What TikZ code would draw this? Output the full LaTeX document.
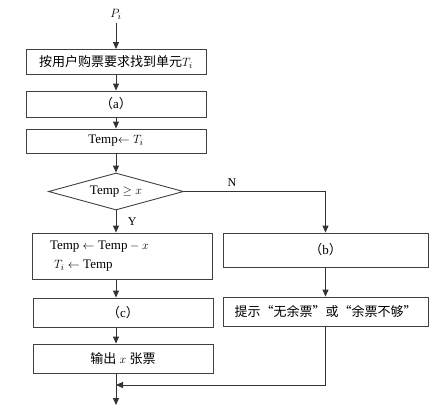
\documentclass[tikz,border=0pt]{standalone}
\usepackage{fontspec}
\setmainfont{Liberation Serif}
\newfontfamily\cjk{Noto Sans CJK SC}
\usetikzlibrary{shapes.geometric,arrows.meta}

\begin{document}
\begin{tikzpicture}[x=1pt, y=-1pt,
      every node/.style={font=\fontsize{13}{15}\selectfont},
      box/.style={rectangle, draw=black!75, line width=0.9pt, minimum width=180pt, minimum height=25pt, inner sep=2pt, align=center},
      wide/.style={box, minimum width=205pt},
      decision/.style={diamond, draw=black!75, line width=0.9pt, minimum width=135pt, minimum height=37pt, aspect=3.6, inner sep=0pt},
      arr/.style={draw=black!80, line width=0.9pt, -{Triangle[length=7pt,width=6pt]}},
      lbl/.style={font=\fontsize{12}{14}\selectfont}
  ]
    \useasboundingbox (0,0) rectangle (434,410);

    \node (pi) at (116,14) {$P_i$};
    \node[box] (find) at (116,62) {{\cjk 按用户购票要求找到单元}$T_i$};
    \node[box, minimum height=26pt] (a) at (116,104) {{\cjk （}a{\cjk ）}};
    \node[box, minimum height=24pt] (temp) at (116,141) {Temp$\leftarrow T_i$};
    \node[decision] (test) at (116,191.5) {Temp $\geq x$};
    \node[box, minimum height=46pt, text width=144pt, align=left] (upd) at (122,256) {Temp${}\leftarrow{}$Temp${}-x$\\[4pt]\hspace*{4pt}$T_i\leftarrow{}$Temp};
    \node[box, minimum height=29pt] (c) at (123,312.5) {{\cjk （}c{\cjk ）}};
    \node[box, minimum height=29pt] (out) at (123,358.5) {{\cjk 输出} $x$ {\cjk 张票}};
    \node[wide, minimum height=34pt] (b) at (325.5,250) {{\cjk （}b{\cjk ）}};
    \node[wide, minimum height=29pt] (tip) at (325.5,311.5) {{\cjk 提示“无余票”或“余票不够”}};
    \coordinate (join) at (116,385);
    \coordinate (end) at (116,405);

    \draw[arr] (pi) -- (find);
    \draw[arr] (find) -- (a);
    \draw[arr] (a) -- (temp);
    \draw[arr] (temp) -- (test);
    \draw[arr] (test.south) -- node[lbl, right=8pt] {Y} (test.south |- upd.north);
    \draw[arr] (test.east) -| node[lbl, pos=0.17, above=1pt] {N} (b.north);
    \draw[arr] (upd.south -| test) -- (c.north -| test);
    \draw[arr] (c.south -| test) -- (out.north -| test);
    \draw[arr] (b) -- (tip);
    \draw[arr] (tip.south) |- (join);
    \draw[arr] (out.south -| join) -- (end);
  \end{tikzpicture}
\end{document}
